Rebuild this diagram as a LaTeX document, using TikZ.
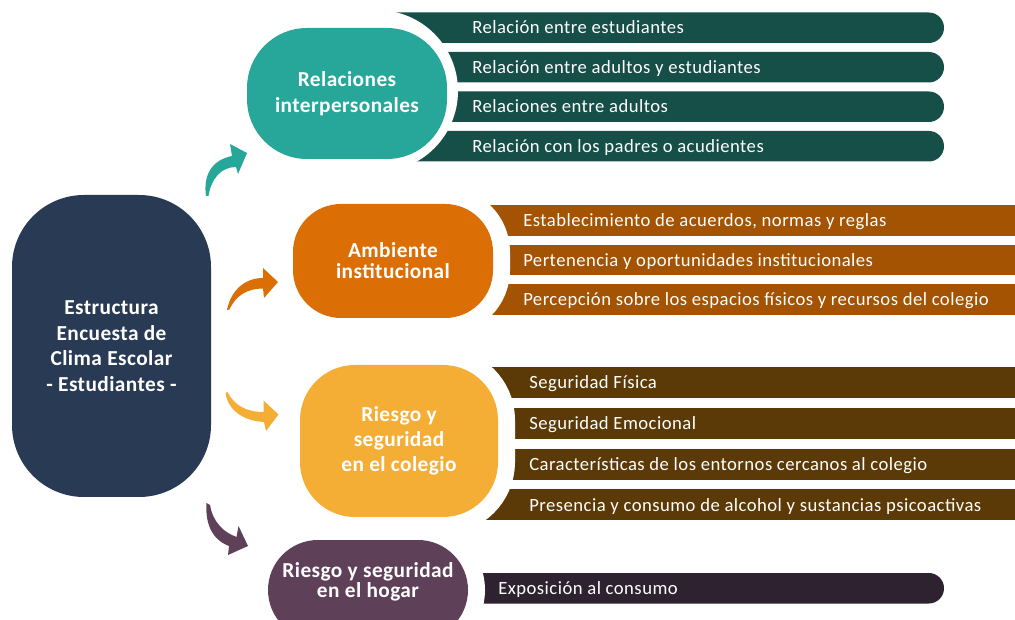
\documentclass[tikz,border=0pt]{standalone}
\usepackage{fontspec}
\setmainfont{Carlito}
\newfontfamily\barfont[LetterSpace=2.5]{Carlito}
\newfontfamily\blobfont[LetterSpace=2]{Carlito}
\definecolor{cNavy}{HTML}{293A55}
\definecolor{cTeal}{HTML}{27A799}
\definecolor{cTealBar}{HTML}{164F48}
\definecolor{cOrange}{HTML}{DB6F05}
\definecolor{cOrangeBar}{HTML}{A35301}
\definecolor{cYellow}{HTML}{F4AE36}
\definecolor{cBrownBar}{HTML}{5B3A07}
\definecolor{cPurple}{HTML}{5E4058}
\definecolor{cDarkBar}{HTML}{2E2230}
\begin{document}
\begin{tikzpicture}[x=0.75pt,y=-0.75pt,
  blob/.style={rounded corners=#1, align=center, text=white, inner sep=0pt},
  gap/.style={preaction={draw=white, line width=25.5pt}},
  bartext/.style={anchor=west, text=white, inner sep=0pt, text height=9.2pt, text depth=0pt,
    font=\barfont\fontsize{14}{15}\selectfont},
  roundbar/.style={rounded corners=11.4pt}]
\useasboundingbox (0,0) rectangle (1015,620);
\clip (0,0) rectangle (1015,620);

% ---- bars ----
\foreach \t in {12.5,52,91.5,131}
  \fill[cTealBar, roundbar] (377,\t) rectangle (944,\t+30.5);
\foreach \t in {205.5,245,284.5}
  \fill[cOrangeBar] (393,\t) rectangle (1030,\t+30.5);
\foreach \t in {367,407.8,448.6,489.4}
  \fill[cBrownBar] (399,\t) rectangle (1030,\t+31);
\fill[cDarkBar, roundbar] (368,573) rectangle (944,603.5);

% ---- cutter for the teal group ----
\fill[white] (377,91) circle[radius=60.75pt];

% ---- topic nodes ----
\node[blob=45pt, fill=cTeal, minimum width=150pt, minimum height=98.25pt,
  font=\blobfont\bfseries\fontsize{16}{19.5}\selectfont] (rel) at (347,93.5) {Relaciones\\interpersonales};
\node[blob=36pt, gap, fill=cOrange, minimum width=150pt, minimum height=85.5pt,
  font=\blobfont\bfseries\fontsize{16}{15.75}\selectfont] (amb) at (393,261) {Ambiente\\institucional};
\node[blob=41.25pt, gap, fill=cYellow, minimum width=148.5pt, minimum height=114pt,
  font=\blobfont\bfseries\fontsize{16}{18.75}\selectfont] (rie) at (399,441) {Riesgo y\\seguridad\\en el colegio};
\node[blob=37.5pt, gap, fill=cPurple, minimum width=150pt, minimum height=75pt] (hog) at (368,590) {};
\node[align=center, text=white, inner sep=0pt, font=\blobfont\bfseries\fontsize{16}{15}\selectfont]
  (hogT) at (368,582) {Riesgo y seguridad\\en el hogar};

% ---- main node ----
\node[blob=54pt, fill=cNavy, minimum width=149.25pt, minimum height=226.5pt,
  font=\blobfont\bfseries\fontsize{16}{19.2}\selectfont] (main) at (111.5,346)
  {Estructura\\Encuesta de\\Clima Escolar\\- Estudiantes -};

% ---- curved arrows ----
\fill[cTeal] (206,196) .. controls (203,175) and (212,160) .. (232,156) -- (230,144) -- (247,153)
  -- (238,174) -- (236,167) .. controls (221,167) and (211,179) .. (208.5,196) -- cycle;
\fill[cOrange] (227,310) .. controls (231,290) and (245,278) .. (263,278) -- (263,268) -- (278,282)
  -- (264,298) -- (263,288.5) .. controls (248,288.5) and (236,295) .. (229.5,309.5) -- cycle;
\fill[cYellow] (225.5,393) .. controls (228,410) and (243,421) .. (264,422) -- (266,431) -- (278.5,414.5)
  -- (263.5,400.5) -- (263.5,412) .. controls (246,412) and (234,405) .. (227.5,392) -- cycle;
\fill[cPurple] (206.5,503) .. controls (205,525) and (213,540) .. (229,546) -- (228,555) -- (248,546)
  -- (238.5,526) -- (236.5,537) .. controls (223,532) and (213,522) .. (210,505) -- cycle;

% ---- bar texts ----
\node[bartext] (r1) at (472,27.75) {Relación entre estudiantes};
\node[bartext] (r2) at (472,67.25) {Relación entre adultos y estudiantes};
\node[bartext] (r3) at (472,106.75) {Relaciones entre adultos};
\node[bartext] (r4) at (472,146.25) {Relación con los padres o acudientes};
\node[bartext] (a1) at (523,220.75) {Establecimiento de acuerdos, normas y reglas};
\node[bartext] (a2) at (523,260.25) {Pertenencia y oportunidades institucionales};
\node[bartext] (a3) at (523,299.75) {Percepción sobre los espacios físicos y recursos del colegio};
\node[bartext] (s1) at (529,382.5) {Seguridad Física};
\node[bartext] (s2) at (529,423.3) {Seguridad Emocional};
\node[bartext] (s3) at (529,464.1) {Características de los entornos cercanos al colegio};
\node[bartext] (s4) at (529,504.9) {Presencia y consumo de alcohol y sustancias psicoactivas};
\node[bartext] (h1) at (498,588.2) {Exposición al consumo};
\end{tikzpicture}
\end{document}
